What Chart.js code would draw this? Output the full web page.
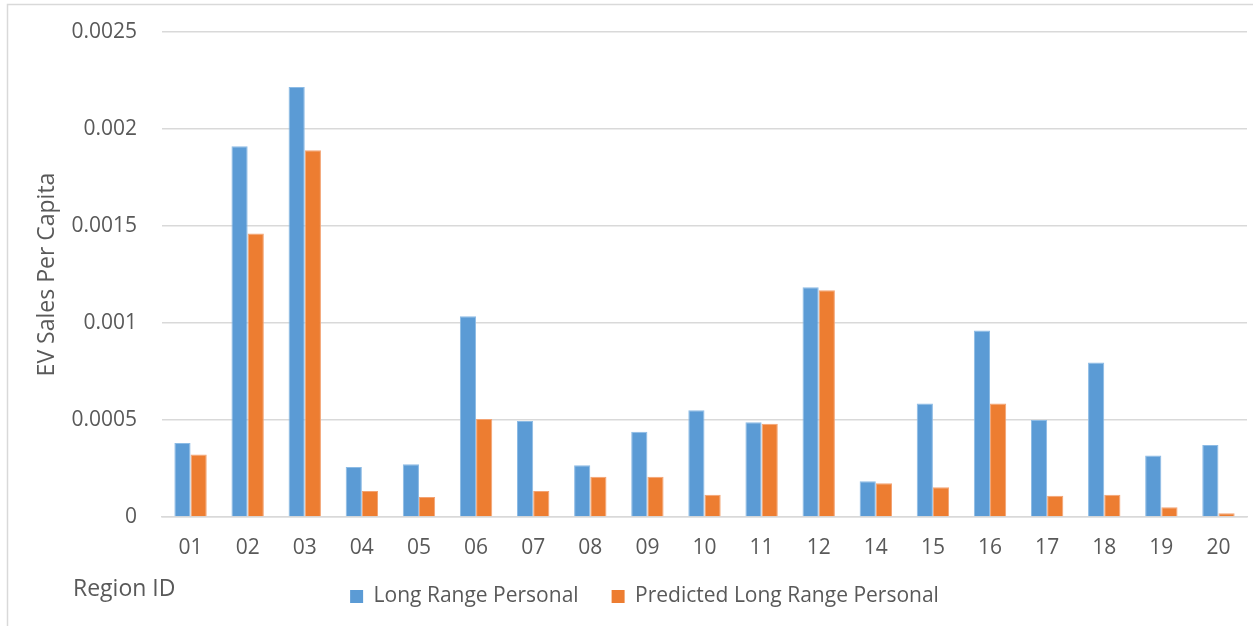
<!DOCTYPE html>
<html><head><meta charset="utf-8">
<script src="https://cdn.jsdelivr.net/npm/chart.js"></script>
<style>html,body{margin:0;padding:0;background:#fff;} canvas{display:block;}</style>
</head><body>
<canvas id="c" width="1253" height="626"></canvas>
<script>
const categories = ['01','02','03','04','05','06','07','08','09','10','11','12','14','15','16','17','18','19','20'];
const longRange = [0.000381, 0.001911, 0.002217, 0.000258, 0.000272, 0.001035, 0.000495, 0.000267, 0.00044, 0.00055, 0.000488, 0.001184, 0.000184, 0.000585, 0.000961, 0.0005, 0.000797, 0.000317, 0.000371];
const predicted = [0.000322, 0.001461, 0.00189, 0.000134, 0.000103, 0.000505, 0.000134, 0.000208, 0.000208, 0.000115, 0.000481, 0.001169, 0.000174, 0.000153, 0.000585, 0.00011, 0.000115, 0.00005, 0.000019];
const yTickLabels = ['0','0.0005','0.001','0.0015','0.002','0.0025'];
const seriesNames = ['Long Range Personal','Predicted Long Range Personal'];
const xTitle = 'Region ID';
const yTitle = 'EV Sales Per Capita';

const TEXT = '#595959';
const GRID = '#D9D9D9';
const FONT = '"Open Sans", sans-serif';

const framePlugin = {
  id: 'frame',
  afterLayout(chart) {
    // place the legend row level with the "Region ID" caption
    if (chart.legend) {
      chart.legend.top -= 8; chart.legend.bottom -= 8;
      chart.legend.left += 4; chart.legend.right += 4;
    }
  },
  beforeDraw(chart) {
    const ctx = chart.ctx;
    ctx.save();
    ctx.fillStyle = '#fff';
    ctx.fillRect(0, 0, chart.width, chart.height);
    ctx.strokeStyle = GRID;
    ctx.lineWidth = 1.5;
    ctx.beginPath();
    ctx.moveTo(7.5, chart.height);
    ctx.lineTo(7.5, 4.5);
    ctx.lineTo(chart.width, 4.5);
    ctx.stroke();
    ctx.restore();
  },
  afterDraw(chart) {
    const ctx = chart.ctx;
    ctx.save();
    ctx.fillStyle = TEXT;
    ctx.font = '23px ' + FONT;
    ctx.textBaseline = 'middle';
    ctx.textAlign = 'left';
    ctx.fillText(xTitle, 73, 589);
    ctx.restore();
  }
};

new Chart(document.getElementById('c'), {
  type: 'bar',
  data: {
    labels: categories,
    datasets: [
      { label: seriesNames[0], data: longRange, backgroundColor: '#5B9BD5', borderColor: '#8CBBE5', borderWidth: 1,
        categoryPercentage: 0.567, barPercentage: 1 },
      { label: seriesNames[1], data: predicted, backgroundColor: '#ED7D31', borderColor: '#F3A373', borderWidth: 1,
        categoryPercentage: 0.567, barPercentage: 1 }
    ]
  },
  options: {
    responsive: false,
    devicePixelRatio: 1,
    animation: false,
    layout: { padding: { left: 34, right: 6, top: 32, bottom: 1 } },
    plugins: {
      tooltip: { enabled: false },
      legend: {
        position: 'bottom',
        labels: {
          boxWidth: 13, boxHeight: 13, color: TEXT, padding: 33,
          font: { size: 21, family: FONT },
          generateLabels(chart) {
            return chart.data.datasets.map((ds, i) => ({
              text: ds.label, fillStyle: ds.backgroundColor, strokeStyle: ds.backgroundColor,
              lineWidth: 0, fontColor: TEXT, hidden: !chart.isDatasetVisible(i), datasetIndex: i
            }));
          }
        }
      }
    },
    scales: {
      x: {
        grid: { display: false, drawTicks: false },
        border: { display: true, color: GRID, width: 1.5 },
        ticks: { color: TEXT, font: { size: 21, family: FONT }, padding: 18, maxRotation: 0 },
        afterFit(scale) { scale.height = 44; }
      },
      y: {
        min: 0, max: 0.0025,
        grid: { color: GRID, lineWidth: 1.5, drawTicks: true, tickLength: 20, tickColor: 'rgba(0,0,0,0)' },
        border: { display: false },
        ticks: {
          stepSize: 0.0005, color: TEXT, font: { size: 21, family: FONT }, padding: 5,
          callback: (v, i) => yTickLabels[i]
        },
        title: { display: true, text: yTitle, color: TEXT, font: { size: 23, family: FONT }, padding: { top: 0, bottom: 0 } },
        afterFit(scale) { scale.width = 128; }
      }
    }
  },
  plugins: [framePlugin]
});
</script>
</body></html>
